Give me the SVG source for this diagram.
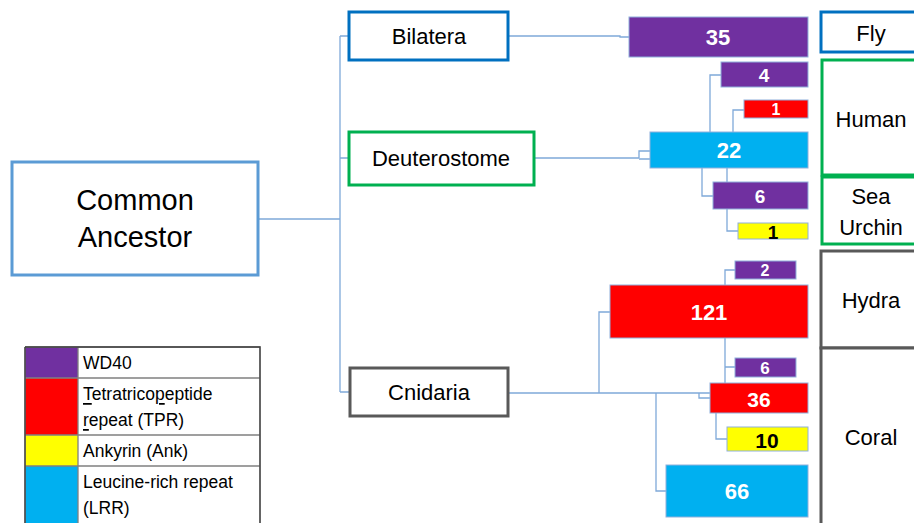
<svg xmlns="http://www.w3.org/2000/svg" width="914" height="523" viewBox="0 0 914 523">
<style>
text{font-family:"Liberation Sans",Arial,sans-serif;text-anchor:middle;dominant-baseline:central}
.lbl{font-size:22px;fill:#000}
.big{font-size:29px;fill:#000}
.num{font-weight:bold;fill:#fff}
.blk{font-weight:bold;fill:#000}
.conn{fill:none;stroke:#7fa9d9;stroke-width:1.3}
.wd{fill:#7030a0;stroke:#8fb0db;stroke-width:1}
.tpr{fill:#ff0000;stroke:#8fb0db;stroke-width:1}
.ank{fill:#ffff00;stroke:#8fb0db;stroke-width:1}
.lrr{fill:#00b0f0;stroke:#8fb0db;stroke-width:1}
.leg{font-size:17.5px;text-anchor:start;fill:#000}
</style>
<g id="connectors">
<path class="conn" d="M258 219H340M340 36V392M340 36H349M340 158H349M340 392H350"/>
<path class="conn" d="M508 36H620V37H629"/>
<path class="conn" d="M534 158H639M639 158V151H650M639 159H650"/>
<path class="conn" d="M710 132V75H721M733 132V110H744M702 168V196H713M727 168V182M727 209V231H738"/>
<path class="conn" d="M509 393H699M599 393V312H610M699 393V398H710M699 393H710"/>
<path class="conn" d="M725 285V270H735M725 338V383M725 367H735M716 413V439H727M656 393V491H666"/>
</g>
<g id="common-ancestor"><rect x="12" y="162" width="246" height="113" fill="#fff" stroke="#5b9bd5" stroke-width="3"/><text class="big" x="135" y="200">Common</text><text class="big" x="135" y="237">Ancestor</text></g>
<g id="bilatera"><rect x="349" y="12" width="159" height="48" fill="#fff" stroke="#0070c0" stroke-width="3"/><text class="lbl" x="429" y="36">Bilatera</text></g>
<g id="deuterostome"><rect x="349" y="132" width="185" height="53" fill="#fff" stroke="#00b050" stroke-width="3"/><text class="lbl" x="441" y="158">Deuterostome</text></g>
<g id="cnidaria"><rect x="350" y="368" width="158" height="48" fill="#fff" stroke="#595959" stroke-width="3"/><text class="lbl" x="429" y="392">Cnidaria</text></g>
<g id="fly-wd40-35"><rect class="wd" x="629" y="17" width="179" height="40"/><text class="num" x="718" y="37" font-size="22">35</text></g>
<g id="human-wd40-4"><rect class="wd" x="721" y="62" width="87" height="25"/><text class="num" x="764" y="75" font-size="19">4</text></g>
<g id="human-tpr-1"><rect class="tpr" x="744" y="100" width="64" height="18"/><text class="num" x="776" y="109" font-size="16">1</text></g>
<g id="deut-lrr-22"><rect class="lrr" x="650" y="132" width="158" height="36"/><text class="num" x="729" y="150" font-size="22">22</text></g>
<g id="urchin-wd40-6"><rect class="wd" x="713" y="182" width="95" height="27"/><text class="num" x="760" y="196" font-size="19">6</text></g>
<g id="urchin-ank-1"><rect class="ank" x="738" y="223" width="70" height="16"/><text class="blk" x="773" y="232" font-size="19">1</text></g>
<g id="hydra-wd40-2"><rect class="wd" x="735" y="261" width="61" height="18"/><text class="num" x="765" y="270" font-size="16">2</text></g>
<g id="cnid-tpr-121"><rect class="tpr" x="610" y="285" width="198" height="53"/><text class="num" x="709" y="312" font-size="22">121</text></g>
<g id="coral-wd40-6"><rect class="wd" x="735" y="358" width="61" height="19"/><text class="num" x="765" y="368" font-size="17">6</text></g>
<g id="coral-tpr-36"><rect class="tpr" x="710" y="383" width="98" height="30"/><text class="num" x="759" y="399" font-size="21">36</text></g>
<g id="coral-ank-10"><rect class="ank" x="727" y="427" width="81" height="24"/><text class="blk" x="767" y="440" font-size="21">10</text></g>
<g id="coral-lrr-66"><rect class="lrr" x="666" y="465" width="142" height="52"/><text class="num" x="737" y="491" font-size="22">66</text></g>
<g id="fly"><rect x="821" y="12" width="100" height="40" fill="#fff" stroke="#0070c0" stroke-width="3"/><text class="lbl" x="871" y="33">Fly</text></g>
<g id="human"><rect x="822" y="60" width="100" height="115" fill="#fff" stroke="#00b050" stroke-width="3"/><text class="lbl" x="871" y="119">Human</text></g>
<g id="sea-urchin"><rect x="822" y="177" width="100" height="67" fill="#fff" stroke="#00b050" stroke-width="3"/><text class="lbl" x="871" y="196">Sea</text><text class="lbl" x="871" y="227">Urchin</text></g>
<g id="hydra"><rect x="821" y="251" width="100" height="97" fill="#fff" stroke="#595959" stroke-width="3"/><text class="lbl" x="871" y="300">Hydra</text></g>
<g id="coral"><rect x="821" y="348" width="100" height="185" fill="#fff" stroke="#595959" stroke-width="3"/><text class="lbl" x="871" y="437">Coral</text></g>
<g id="legend">
<rect x="25" y="347" width="53" height="31" fill="#7030a0"/>
<rect x="25" y="378" width="53" height="57" fill="#ff0000"/>
<rect x="25" y="435" width="53" height="31" fill="#ffff00"/>
<rect x="25" y="466" width="53" height="57" fill="#00b0f0"/>
<path d="M25 347H260V523M25 347V523M78 347V523M25 378H260M25 435H260M25 466H260" fill="none" stroke="#808080" stroke-width="1.3"/>
<path d="M25 347H260V523M25 347V523" fill="none" stroke="#404040" stroke-width="1.3"/>
<text class="leg" x="83" y="363">WD40</text>
<text class="leg" x="83" y="394"><tspan text-decoration="underline">T</tspan>etratrico<tspan text-decoration="underline">p</tspan>eptide</text>
<text class="leg" x="83" y="420"><tspan text-decoration="underline">r</tspan>epeat (TPR)</text>
<text class="leg" x="83" y="451">Ankyrin (Ank)</text>
<text class="leg" x="83" y="482">Leucine-rich repeat</text>
<text class="leg" x="83" y="508">(LRR)</text>
</g>
</svg>
